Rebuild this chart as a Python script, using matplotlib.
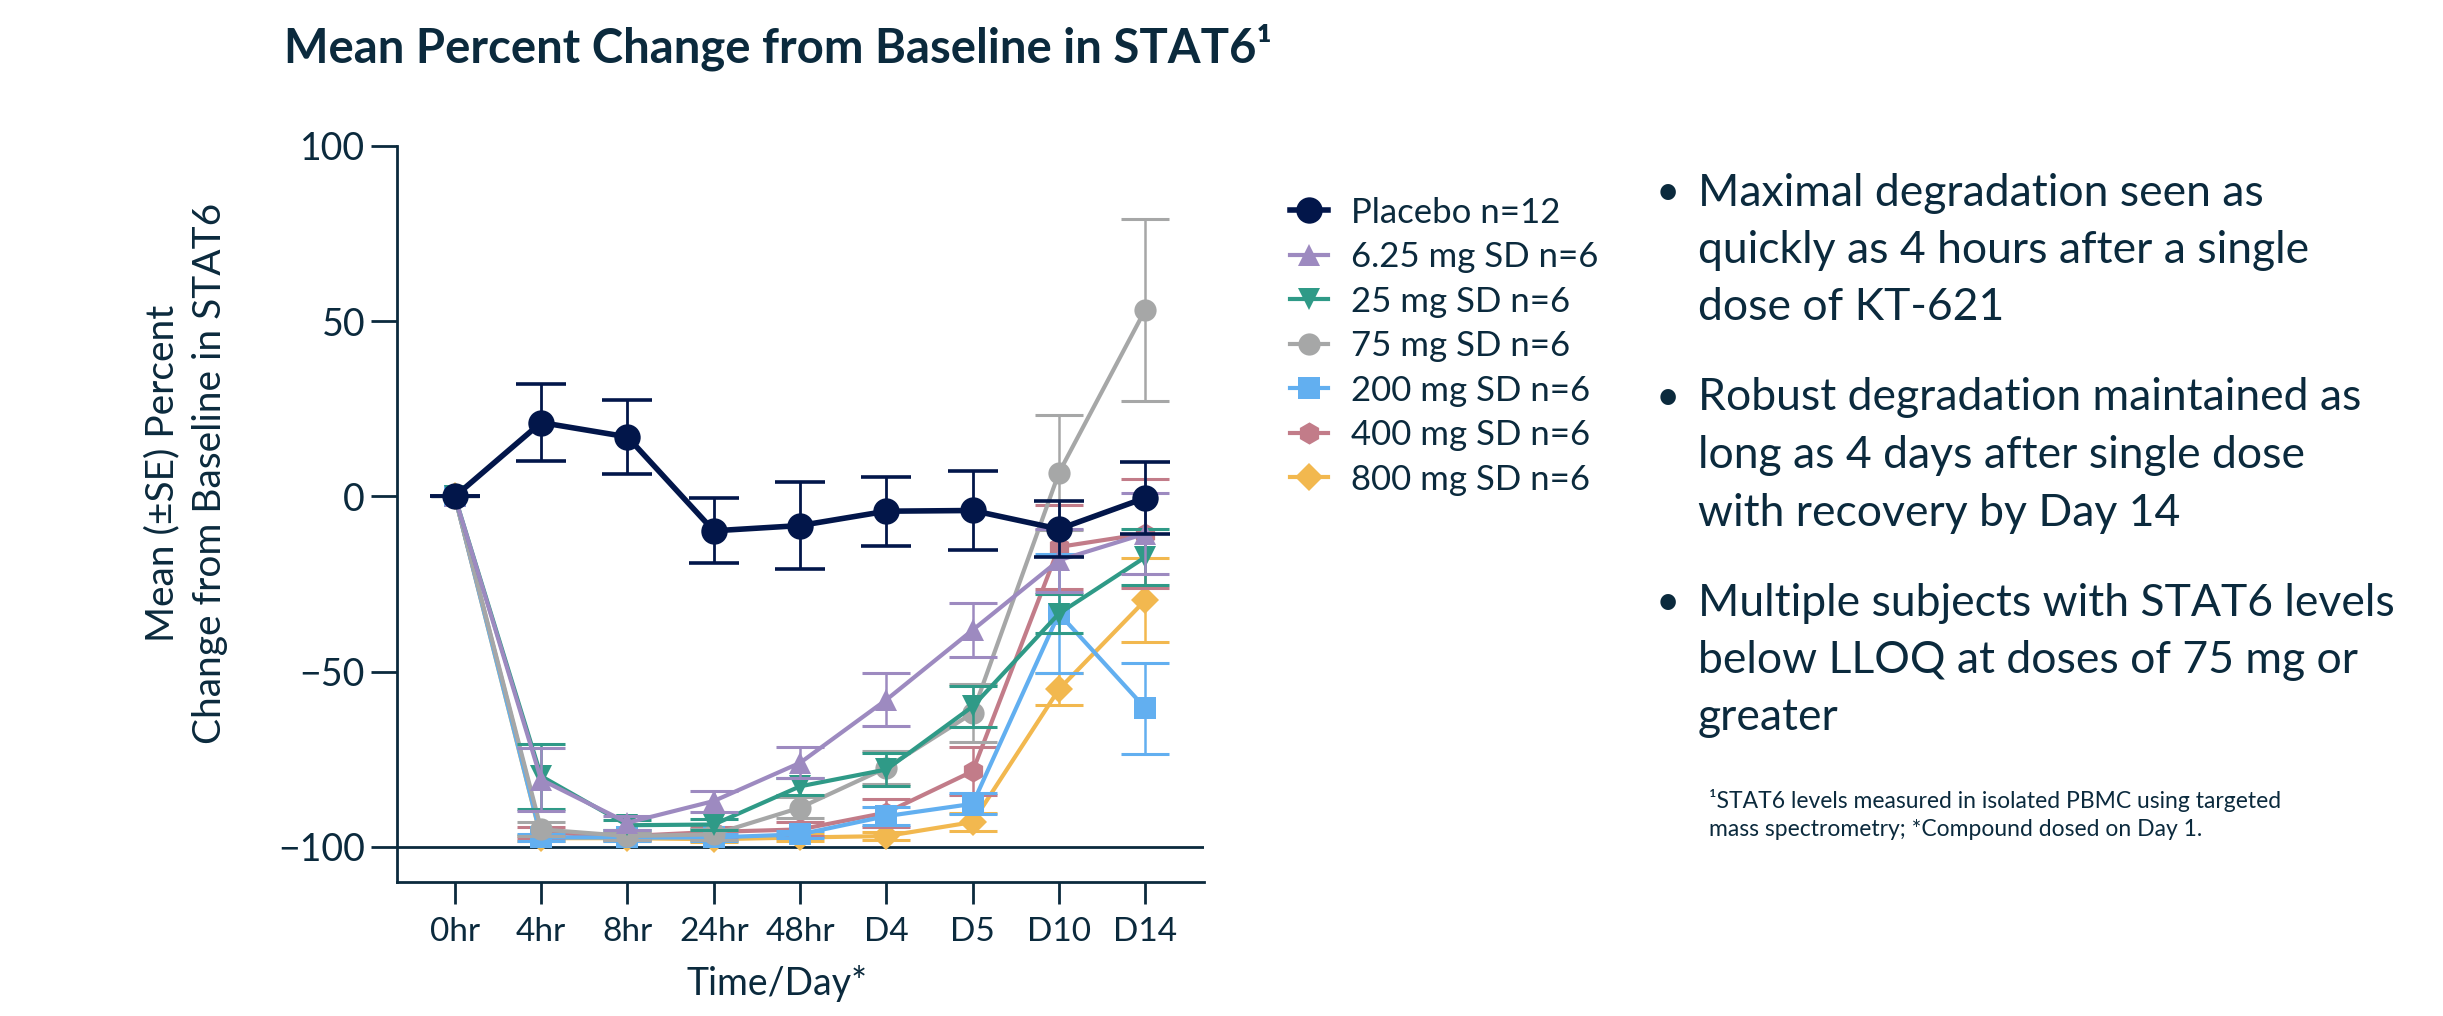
import matplotlib.pyplot as plt
import numpy as np

# time points and groups
timepoints = ["0hr", "4hr", "8hr", "24hr", "48hr", "D4", "D5", "D10", "D14"]
groups = ["Placebo n=12", "6.25 mg SD n=6", "25 mg SD n=6", "75 mg SD n=6",
          "200 mg SD n=6", "400 mg SD n=6", "800 mg SD n=6"]

# mean % change from baseline
placebo = [0, 21.1, 17.0, -9.8, -8.3, -4.2, -4.0, -9.3, -0.4]
mg6_25 = [0, -80.8, -93.1, -86.9, -76.0, -58.0, -38.1, -18.2, -10.6]
mg25 = [0, -79.8, -93.8, -93.6, -82.7, -77.9, -59.9, -33.4, -17.3]
mg75 = [0, -95.0, -96.9, -96.4, -88.8, -77.4, -61.8, 6.8, 53.3]
mg200 = [0, -97.3, -97.3, -97.3, -96.4, -91.2, -87.7, -33.4, -60.4]
mg400 = [0, -95.9, -96.9, -95.7, -95.0, -90.2, -78.4, -14.4, -10.6]
mg800 = [0, -97.5, -97.5, -97.8, -97.3, -96.9, -92.9, -55.0, -29.6]

# standard errors
se_placebo = [0, 10.9, 10.5, 9.3, 12.3, 9.8, 11.2, 7.9, 10.2]
se_6_25 = [0, 9.0, 2.0, 3.0, 4.4, 7.5, 7.8, 9.0, 11.5]
se_25 = [0, 9.3, 1.5, 1.5, 2.5, 4.7, 5.8, 5.5, 8.0]
se_75 = [0, 2.0, 1.0, 1.5, 3.0, 4.7, 8.2, 16.5, 26.0]
se_200 = [0, 1.0, 1.0, 1.0, 1.0, 2.5, 3.0, 17.0, 13.0]
se_400 = [0, 1.5, 1.0, 1.5, 2.0, 4.0, 6.8, 12.0, 15.6]
se_800 = [0, 0.8, 0.8, 0.8, 1.0, 1.2, 2.5, 4.5, 12.0]

means = [placebo, mg6_25, mg25, mg75, mg200, mg400, mg800]
errs = [se_placebo, se_6_25, se_25, se_75, se_200, se_400, se_800]
colors = ["#02164a", "#9d8ac0", "#2f9a87", "#a6a7a7", "#62aff0", "#c27c89", "#f2b84f"]
markers = ["o", "^", "v", "o", "s", "h", "D"]

bullets = [
    ["Maximal degradation seen as", "quickly as 4 hours after a single", "dose of KT-621"],
    ["Robust degradation maintained as", "long as 4 days after single dose", "with recovery by Day 14"],
    ["Multiple subjects with STAT6 levels", "below LLOQ at doses of 75 mg or", "greater"],
]
footnote = ["\u00b9STAT6 levels measured in isolated PBMC using targeted",
            "mass spectrometry; *Compound dosed on Day 1."]

ink = "#0b2a3d"
plt.rcParams["font.family"] = ["Lato", "DejaVu Sans"]

W, H = 2443, 1016
fig = plt.figure(figsize=(W / 100, H / 100), dpi=100)
ax = fig.add_axes([397 / W, 1 - 882 / H, (1204 - 397) / W, (882 - 146) / H])

x = np.arange(len(timepoints))
handles = []
n = len(groups)
for i in range(n):
    z = 10 + (n - i) * 2
    main = i == 0
    ax.errorbar(x, means[i], yerr=errs[i], fmt="none", ecolor=colors[i],
                elinewidth=2.0 if main else 1.8, capsize=18 if main else 17,
                capthick=2.6 if main else 2.2, zorder=z)
    ln, = ax.plot(x, means[i], color=colors[i], marker=markers[i],
                  lw=4.0 if main else 3.0,
                  ms=19 if main else (14 if markers[i] == "D" else 16),
                  markeredgewidth=0, zorder=z + 1, label=groups[i])
    handles.append(ln)

ax.axhline(-100, color=ink, lw=2.0, zorder=5)
ax.set_xlim(-0.67, 8.68)
ax.set_ylim(-110, 100)
ax.set_yticks([100, 50, 0, -50, -100])
ax.set_xticks(x)
ax.set_xticklabels(timepoints)
for s in ["top", "right"]:
    ax.spines[s].set_visible(False)
for s in ["left", "bottom"]:
    ax.spines[s].set_color(ink)
    ax.spines[s].set_linewidth(2.0)
ax.tick_params(axis="y", length=19, width=2.0, color=ink, labelcolor=ink,
               labelsize=27, pad=4)
ax.tick_params(axis="x", length=16, width=2.0, color=ink, labelcolor=ink,
               labelsize=24, pad=9)
ax.set_xlabel("Time/Day*", fontsize=27, color=ink)
ax.xaxis.set_label_coords(0.471, -0.113)

fig.text(186 / W, 1 - 473 / H, "Mean (\u00b1SE) Percent\nChange from Baseline in STAT6",
         rotation=90, ha="center", va="center", multialignment="center",
         fontsize=28, color=ink, linespacing=1.4)

fig.text(284 / W, 1 - 47 / H, "Mean Percent Change from Baseline in STAT6\u00b9",
         fontsize=34, fontweight="bold", color=ink, ha="left", va="center")

fig.legend(handles=handles, loc="center left", bbox_to_anchor=(1290 / W, 1 - 346 / H),
           frameon=False, fontsize=25, labelcolor=ink, borderpad=0, borderaxespad=0,
           handlelength=1.1, handletextpad=0.65, labelspacing=0.36)

# bullet list on the right
y = 193
for lines in bullets:
    fig.text(1656 / W, 1 - y / H, "\u2022", fontsize=30, color=ink, ha="left", va="center")
    for line in lines:
        fig.text(1698 / W, 1 - y / H, line, fontsize=32, color=ink, ha="left", va="center")
        y += 57.5
    y += 90 - 57.5

for k, line in enumerate(footnote):
    fig.text(1709 / W, 1 - (801 + 28 * k) / H, line, fontsize=16.5, color=ink,
             ha="left", va="center")

fig.savefig("out.png", dpi=100)
